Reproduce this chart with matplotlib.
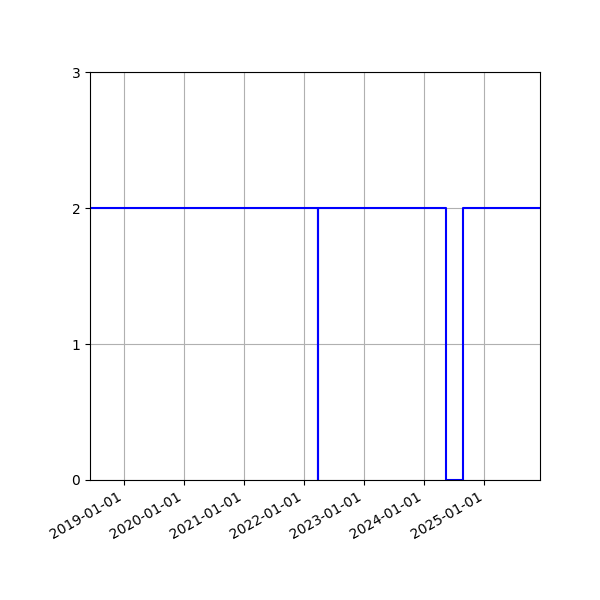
import matplotlib
matplotlib.use("Agg")
import matplotlib.pyplot as plt
import matplotlib.dates as mdates
import datetime as dt

dates = ["2018-06-08", "2022-03-27", "2022-03-28", "2024-05-14", "2024-08-26", "2025-12-05"]
values = [2, 0, 2, 0, 2, 2]
yticks = [0, 1, 2, 3]

x = [dt.datetime.strptime(d, "%Y-%m-%d") for d in dates]

fig, ax = plt.subplots(figsize=(6, 6), dpi=100)
fig.subplots_adjust(left=0.15, right=0.9, top=0.88, bottom=0.2)
ax.plot(x, values, drawstyle="steps-post", color="blue")
ax.set_xlim(x[0], x[-1])
ax.set_ylim(0, 3)
ax.set_yticks(yticks)
ax.xaxis.set_major_locator(mdates.YearLocator())
ax.xaxis.set_major_formatter(mdates.DateFormatter("%Y-%m-%d"))
ax.grid(True)
for lbl in ax.get_xticklabels():
    lbl.set_rotation(30)
    lbl.set_ha("right")
fig.savefig("out.png", dpi=100)
